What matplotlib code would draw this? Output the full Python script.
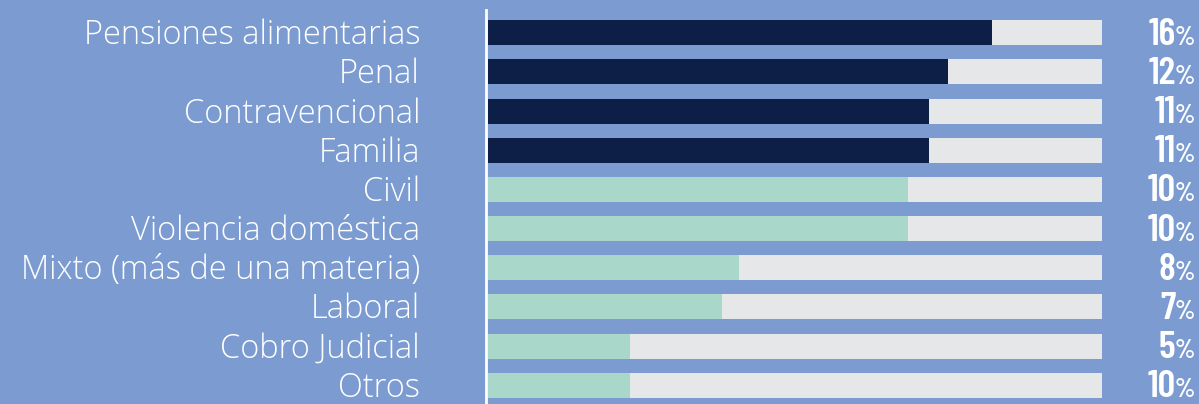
import matplotlib
matplotlib.use("Agg")
import matplotlib.pyplot as plt
import matplotlib.transforms as mtransforms

# Datos
materias = ["Pensiones alimentarias", "Penal", "Contravencional", "Familia", "Civil",
            "Violencia doméstica", "Mixto (más de una materia)", "Laboral",
            "Cobro Judicial", "Otros"]
porcentajes = [16, 12, 11, 11, 10, 10, 8, 7, 5, 10]
# largo de la barra rellena (escala 0-100 de la pista gris)
relleno = [82.1, 74.9, 71.8, 71.8, 68.4, 68.4, 40.9, 38.1, 23.1, 23.1]
destacado = [True, True, True, True, False, False, False, False, False, False]

FONDO = "#7b9bd1"
AZUL = "#0d1f47"
MENTA = "#a9d8cb"
GRIS = "#e6e7e9"

fuente_num = "Barlow Condensed"
fuente_txt = "Open Sans"

W, H = 1199, 404
fig = plt.figure(figsize=(W / 100, H / 100), dpi=100, facecolor=FONDO)
ax = fig.add_axes([488 / W, 0, 614 / W, 1])
ax.set_facecolor(FONDO)

y0, paso = 32.8, 39.16
ax.set_xlim(0, 100)
ax.set_ylim((H - y0) / paso, -y0 / paso)
ax.axis("off")

pos = list(range(len(materias)))
alto = 25 / paso
ax.barh(pos, [100] * len(pos), height=alto, color=GRIS, linewidth=0)
ax.barh(pos, relleno, height=alto,
        color=[AZUL if d else MENTA for d in destacado], linewidth=0)

ax.axvline(-2 / 6.14, ymin=0, ymax=1 - 10 / H, color="white", lw=2, clip_on=False)

trans = mtransforms.blended_transform_factory(ax.transAxes, ax.transData)
for i, nombre in enumerate(materias):
    ax.text((420 - 488) / 614, i + 11.5 / paso, nombre, transform=trans,
            ha="right", va="baseline", color="white", fontsize=23.5,
            family=fuente_txt, weight=300)

fig.canvas.draw()
rend = fig.canvas.get_renderer()
for i, p in enumerate(porcentajes):
    t = ax.text((1195 - 488) / 614, i + 12 / paso, "%", transform=trans,
                ha="right", va="baseline", color="white", fontsize=19,
                family=fuente_num, weight=600)
    bb = t.get_window_extent(rend)
    xa = ax.transAxes.inverted().transform((bb.x0 + 1, 0))[0]
    ax.text(xa, i + 12 / paso, str(p), transform=trans, ha="right", va="baseline",
            color="white", fontsize=28, family=fuente_num, weight=600)

fig.savefig("out.png", dpi=100, facecolor=FONDO)
